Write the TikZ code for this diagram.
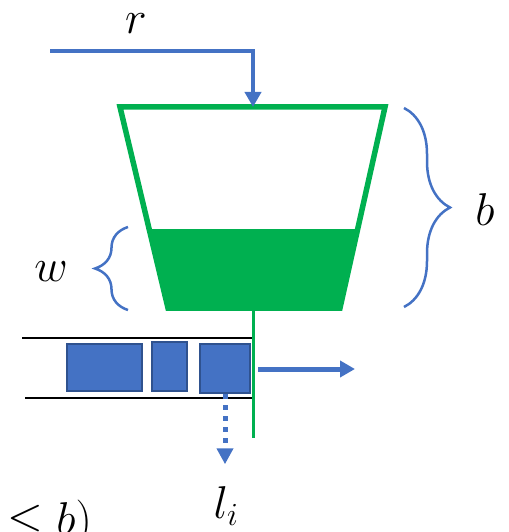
\RequirePackage{fix-cm}
\documentclass[tikz,border=0pt]{standalone}
\usepackage{amsmath,amssymb}
\usepackage{tikz}
\usetikzlibrary{arrows.meta, positioning, calc, decorations.pathreplacing}
\definecolor{flowblue}{RGB}{68,114,196}
\definecolor{pktedge}{RGB}{47,82,143}
\definecolor{bucketgreen}{RGB}{0,176,80}
\tikzset{
  bucket/.style={draw=bucketgreen, line width=5.5pt, line join=miter},
  water/.style={fill=bucketgreen},
  drain/.style={draw=bucketgreen, line width=3pt},
  wire/.style={draw=black, line width=2.5pt},
  pkt/.style={rectangle, draw=pktedge, fill=flowblue, line width=2.5pt, inner sep=0pt},
  inflow/.style={-{Triangle[length=15pt, width=16pt]}, line width=4.5pt, flowblue},
  outflow/.style={-{Triangle[length=15pt, width=16pt]}, line width=5pt, flowblue},
  leak/.style={-{Triangle[length=16pt, width=16pt]}, line width=5pt, flowblue,
    dash pattern=on 5pt off 6pt},
  brc/.style={decorate, decoration={brace, amplitude=#1}, draw=flowblue, line width=2.5pt},
  lbl/.style={font=\fontsize{46}{52}\selectfont, inner sep=0pt}
}
\begin{document}
\begin{tikzpicture}[x=1pt, y=-1pt]
  \useasboundingbox (0,0) rectangle (508,532);
  \clip (0,0) rectangle (508,532);
  % bucket corners
  \coordinate (tl) at (120,107);
  \coordinate (tr) at (385,107);
  \coordinate (br) at (340,308);
  \coordinate (bl) at (168,308);
  \coordinate (inlet) at (253,107);
  \coordinate (outlet) at (253,308);
  \fill[water] (149,229) -- (358,229) -- (br) -- (bl) -- cycle;
  \draw[bucket] (tl) -- (tr) -- (br) -- (bl) -- cycle;
  % token rate in
  \coordinate (src) at (50,51);
  \node[lbl] (rlbl) at (136,24) {$r$};
  \draw[inflow] (src) -| (inlet);
  % braces
  \draw[brc=46pt] (404,108) -- (404,307);
  \node[lbl] (blbl) at (485,210) {$b$};
  \draw[brc=33pt] (128,310) -- (128,227);
  \node[lbl] (wlbl) at (51,272) {$w$};
  % packet queue
  \coordinate (qt) at (22,338);
  \coordinate (qb) at (25,398);
  \draw[wire] (qt) -- (qt -| outlet);
  \draw[wire] (qb) -- (qb -| outlet);
  \node[pkt, minimum width=75, minimum height=47] (p1) at (104.5,367.5) {};
  \node[pkt, minimum width=35, minimum height=49] (p2) at (169.5,366.5) {};
  \node[pkt, minimum width=50, minimum height=49] (p3) at (225,368.5) {};
  \draw[drain] (outlet) -- ++(0,130) coordinate (gate);
  \coordinate (sent) at (258,369);
  \draw[outflow] (sent) -- ++(97,0) coordinate (sink);
  \draw[leak] (p3.south) -- ++(0,70) coordinate (lost);
  \node[lbl] (llbl) at (226,506) {$l_i$};
  \node[lbl, anchor=base east] (cond) at (92,534) {$\leq b)$};
\end{tikzpicture}
\end{document}
